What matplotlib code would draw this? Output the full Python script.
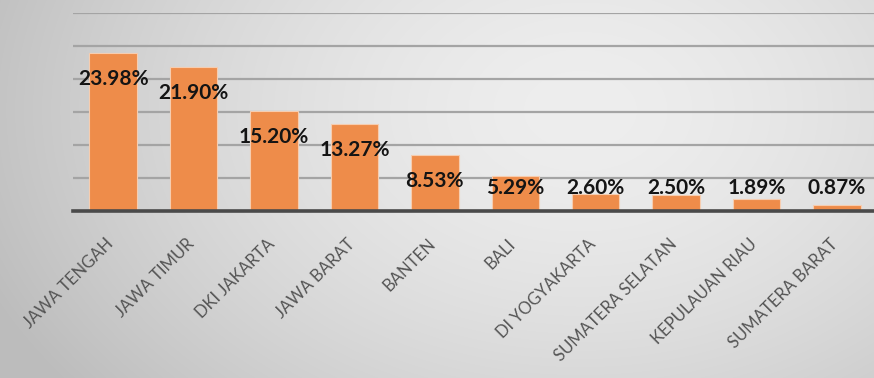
import numpy as np
import matplotlib
matplotlib.use("Agg")
import matplotlib.pyplot as plt
from matplotlib.transforms import ScaledTranslation

# data
provinces = ["JAWA TENGAH", "JAWA TIMUR", "DKI JAKARTA", "JAWA BARAT", "BANTEN",
             "BALI", "DI YOGYAKARTA", "SUMATERA SELATAN", "KEPULAUAN RIAU", "SUMATERA BARAT"]
shares = [23.98, 21.90, 15.20, 13.27, 8.53, 5.29, 2.60, 2.50, 1.89, 0.87]
share_labels = ["23.98%", "21.90%", "15.20%", "13.27%", "8.53%",
                "5.29%", "2.60%", "2.50%", "1.89%", "0.87%"]

BAR_COLOR = "#ee8c4a"
GRID_COLOR = "#a4a4a4"
TEXT_DARK = "#141414"
TICK_GRAY = "#555555"

plt.rcParams['font.family'] = ['Lato', 'DejaVu Sans']

fig = plt.figure(figsize=(8.74, 3.78), dpi=100)

# gray radial-ish gradient behind everything
bg = fig.add_axes([0, 0, 1, 1], zorder=-10)
yy, xx = np.mgrid[0:378, 0:874]
r = np.sqrt(((xx - 580) / 600.0) ** 2 + ((yy - 110) / 420.0) ** 2)
shade = np.clip(238 - 44 * r ** 1.6, 188, 240) / 255.0
bg.imshow(np.dstack([shade, shade, shade]), aspect="auto", interpolation="bilinear")
bg.axis("off")

ax = fig.add_axes([0.0835, 0.4418, 0.9200, 0.5230])
ax.patch.set_alpha(0)

x = np.arange(len(provinces))
ax.bar(x, shares, width=0.59, color=BAR_COLOR, edgecolor="#f6cdb0",
       linewidth=0.8, zorder=3)

ax.set_xlim(-0.5, len(provinces) - 0.5)
ax.set_ylim(0, 30)
ax.set_yticks(np.arange(0, 31, 5))
ax.yaxis.grid(True, color=GRID_COLOR, linewidth=1.6, zorder=0)
ax.set_axisbelow(True)
ax.tick_params(axis="y", left=False, labelleft=False)
for s in ["top", "right", "left"]:
    ax.spines[s].set_visible(False)
ax.spines["bottom"].set_color("#4a4a4a")
ax.spines["bottom"].set_linewidth(2.6)
ax.spines["bottom"].set_zorder(4)

# value labels sit a little under the bar top, but never below a floor
for xi, v, lab in zip(x, shares, share_labels):
    ypos = max(v - 4.0, 3.5)
    ax.text(xi, ypos, lab, ha="center", va="center", fontsize=15,
            fontweight="bold", color=TEXT_DARK, zorder=5)

ax.set_xticks(x)
ax.set_xticklabels(provinces, rotation=45, ha="right", va="center",
                   rotation_mode="anchor", fontsize=12, color=TICK_GRAY)
ax.tick_params(axis="x", length=0, pad=22)
shift = ScaledTranslation(-2 / 100, 0, fig.dpi_scale_trans)
for lbl in ax.get_xticklabels():
    lbl.set_transform(lbl.get_transform() + shift)

fig.savefig("out.png", dpi=100)
